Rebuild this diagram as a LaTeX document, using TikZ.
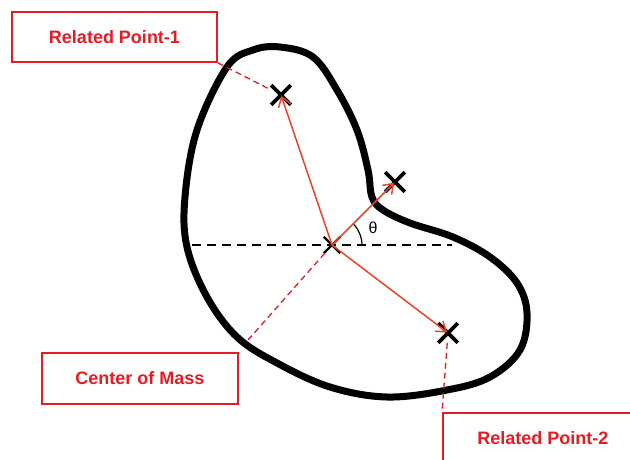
\documentclass[tikz,border=0pt]{standalone}
\usepackage{fontspec}
\setmainfont{Liberation Sans}
\usetikzlibrary{arrows.meta,shapes.misc}
\definecolor{boxRed}{RGB}{228, 28, 36}
\definecolor{vecRed}{RGB}{240, 66, 36}
\tikzset{
  labelbox/.style={draw=boxRed, line width=1.6pt, text=boxRed, inner sep=0pt,
    font=\fontsize{18}{20}\selectfont\bfseries},
  leader/.style={boxRed, line width=1.3pt, dash pattern=on 6pt off 4pt},
  vec/.style={vecRed, line width=1.5pt, shorten >=1pt,
    -{Straight Barb[length=9pt,width=13pt,line width=1.5pt]}},
  xmark/.style={cross out, draw=black, line width=3.6pt, minimum size=16pt, inner sep=0pt},
}

\begin{document}
\begin{tikzpicture}[x=1pt,y=-1pt]
    \clip (0,0) rectangle (630,459);
    \useasboundingbox (0,0) rectangle (630,459);
    % outline of the body
    \draw[line width=7pt, line join=round]
      plot[smooth cycle, tension=0.6] coordinates {
        (280,47) (313,57) (337,90) (357,130) (368,170) (372,197) (383,210)
        (410,223) (453,237) (490,257) (517,283) (527,313) (520,350) (490,377)
        (447,390) (387,397) (330,387) (277,363) (237,337) (207,297) (187,247)
        (185,197) (197,130) (227,67) (253,50)};
    % horizontal reference line
    \coordinate (axl) at (192,245);
    \coordinate (axr) at (452,245);
    \draw[line width=1.8pt, dash pattern=on 9pt off 6pt] (axl) -- (axr);
    % points
    \node[xmark, line width=2.4pt, minimum size=14pt] (cm) at (332,245) {};
    \node[xmark] (p1) at (281,95) {};
    \node[xmark] (p3) at (395,182) {};
    \node[xmark] (p2) at (448,333) {};
    % angle
    \draw[line width=1.2pt] (362,245) arc (0:-44.5:30);
    \node[font=\fontsize{16}{18}\selectfont] (theta) at (373,228) {θ};
    % vectors
    \draw[vec] (cm.center) -- (p1.center);
    \draw[vec] (cm.center) -- (p3.center);
    \draw[vec] (cm.center) -- (p2.center);
    % labels
    \node[labelbox, minimum width=205pt, minimum height=50pt] (rp1) at (114.5,37) {Related Point-1};
    \node[labelbox, minimum width=196pt, minimum height=51pt] (com) at (140,378.5) {Center of Mass};
    \node[labelbox, minimum width=200pt, minimum height=50pt, anchor=north west] (rp2) at (442,412) {Related Point-2};
    \coordinate (comend) at (248,340);
    \draw[leader] (rp1.south east) -- (p1);
    \draw[leader] (cm) -- (comend);
    \draw[leader] (p2) -- (rp2.north west);
\end{tikzpicture}
\end{document}
